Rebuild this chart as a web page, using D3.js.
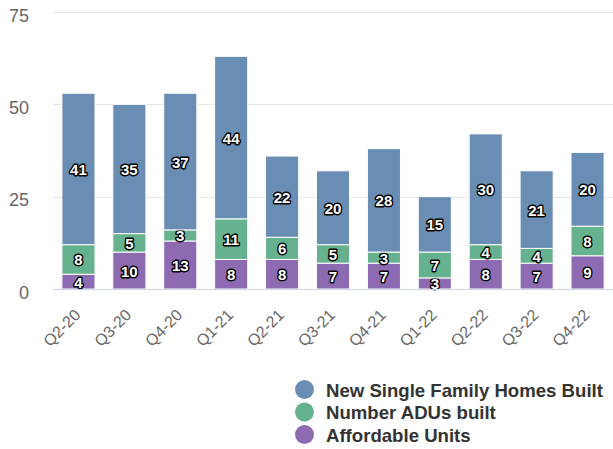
<!DOCTYPE html>
<html>
<head>
<meta charset="utf-8">
<script src="https://cdn.jsdelivr.net/npm/d3@7"></script>
<style>
  body { margin: 0; background: #fff; }
  svg { display: block; font-family: "Liberation Sans", Arial, sans-serif; }
  .grid line { stroke: #e6e6e6; }
  .y-label { fill: #666; font-size: 18px; }
  .x-label { fill: #666; font-size: 16px; }
  .seg { stroke: #fff; stroke-width: 1; }
  .val { fill: #fff; stroke: #000; stroke-width: 2.8px; paint-order: stroke; stroke-linejoin: round;
         font-size: 15px; font-weight: bold; }
  .legend-text { fill: #333; font-size: 18.6px; font-weight: bold; }
</style>
</head>
<body>
<svg id="chart" width="613" height="449"></svg>
<script>
const quarters = ["Q2-20", "Q3-20", "Q4-20", "Q1-21", "Q2-21", "Q3-21", "Q4-21", "Q1-22", "Q2-22", "Q3-22", "Q4-22"];
const affordable = [4, 10, 13, 8, 8, 7, 7, 3, 8, 7, 9];
const adus = [8, 5, 3, 11, 6, 5, 3, 7, 4, 4, 8];
const singleFamily = [41, 35, 37, 44, 22, 20, 28, 15, 30, 21, 20];
const yTicks = [0, 25, 50, 75];

(() => {
  // stack order bottom to top
  const series = [
    { name: "Affordable Units", values: affordable, color: "#8e6ab3" },
    { name: "Number ADUs built", values: adus, color: "#67b28e" },
    { name: "New Single Family Homes Built", values: singleFamily, color: "#6a8db3" }
  ];
  const legendOrder = [series[2], series[1], series[0]];

  const svg = d3.select("#chart");
  const plotLeft = 53, plotRight = 613, plotTop = 12, plotBottom = 289;

  const x = d3.scaleBand()
    .domain(quarters)
    .range([plotLeft, plotRight])
    .paddingInner(0.35)
    .paddingOuter(0.175);

  const y = d3.scaleLinear().domain([0, 75]).range([plotBottom, plotTop]);

  // grid
  svg.append("g").attr("class", "grid")
    .selectAll("line")
    .data(yTicks.filter(t => t > 0))
    .join("line")
    .attr("x1", plotLeft).attr("x2", plotRight)
    .attr("y1", d => Math.round(y(d)) + 0.5).attr("y2", d => Math.round(y(d)) + 0.5);

  svg.append("g")
    .selectAll("text")
    .data(yTicks)
    .join("text")
    .attr("class", "y-label")
    .attr("x", 29)
    .attr("y", d => y(d) + 9.5)
    .attr("text-anchor", "end")
    .text(d => d);

  // stacked bars
  const stackData = quarters.map((q, i) => {
    const row = { q };
    series.forEach(s => row[s.name] = s.values[i]);
    return row;
  });
  const stacked = d3.stack().keys(series.map(s => s.name))(stackData);

  const layers = svg.append("g").selectAll("g")
    .data(stacked)
    .join("g")
    .attr("fill", (d, i) => series[i].color);

  layers.selectAll("rect")
    .data(d => d)
    .join("rect")
    .attr("class", "seg")
    .attr("x", d => x(d.data.q))
    .attr("y", d => y(d[1]))
    .attr("width", x.bandwidth())
    .attr("height", d => y(d[0]) - y(d[1]));

  // axis line
  svg.append("line")
    .attr("x1", plotLeft).attr("x2", plotRight)
    .attr("y1", plotBottom + 0.5).attr("y2", plotBottom + 0.5)
    .attr("stroke", "#ccd6eb");

  // value labels
  layers.selectAll("text")
    .data(d => d)
    .join("text")
    .attr("class", "val")
    .attr("x", d => x(d.data.q) + x.bandwidth() / 2)
    .attr("y", d => (y(d[0]) + y(d[1])) / 2 + 6)
    .attr("text-anchor", "middle")
    .text(d => d[1] - d[0]);

  // x labels
  svg.append("g")
    .selectAll("text")
    .data(quarters)
    .join("text")
    .attr("class", "x-label")
    .attr("text-anchor", "end")
    .attr("transform", d => `translate(${x(d) + x.bandwidth() / 2 + 3},${plotBottom + 27}) rotate(-45)`)
    .text(d => d);

  // legend
  const legend = svg.append("g").selectAll("g")
    .data(legendOrder)
    .join("g")
    .attr("transform", (d, i) => `translate(304.5,${389.5 + i * 22.5})`);

  legend.append("circle").attr("r", 9.5).attr("fill", d => d.color);
  legend.append("text")
    .attr("class", "legend-text")
    .attr("x", 21.5)
    .attr("y", 7)
    .text(d => d.name);
})();
</script>
</body>
</html>
